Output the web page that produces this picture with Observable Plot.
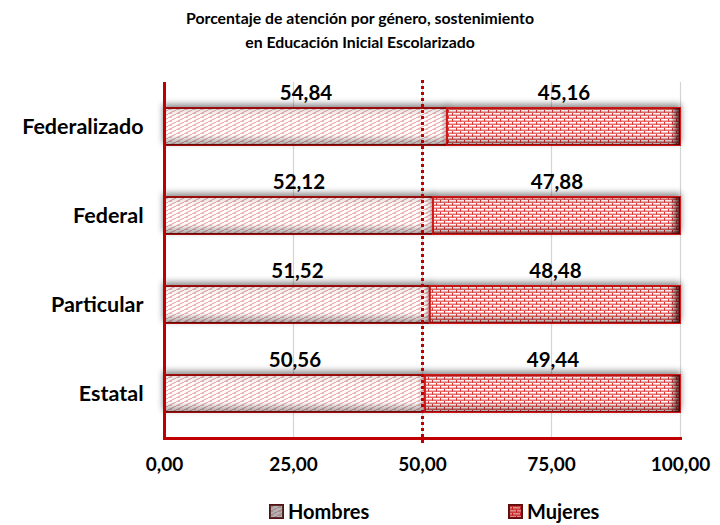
<!DOCTYPE html>
<html><head><meta charset="utf-8">
<script src="https://cdn.jsdelivr.net/npm/d3@7"></script>
<script src="https://cdn.jsdelivr.net/npm/@observablehq/plot@0.6"></script>
<style>
body{margin:0;background:#fff;font-family:Lato,"Open Sans",sans-serif;}
#wrap{position:relative;width:720px;height:525px;overflow:hidden;}
#title{position:absolute;top:6px;left:0;width:720px;text-align:center;font-weight:700;font-size:15.8px;line-height:24px;color:#000;}
#chart{position:absolute;top:62px;left:0;}
.leg{position:absolute;top:499px;font-weight:700;font-size:20px;display:flex;align-items:center;color:#000;}
.leg svg{margin-right:4px;}
</style></head><body>
<div id="wrap">
  <div id="title">Porcentaje de atención por género, sostenimiento<br>en Educación Inicial Escolarizado</div>
  <div id="chart"></div>
  <div class="leg" style="left:269px"><svg width="15" height="15"><rect x="1" y="1" width="13" height="13" fill="url(#patH)" stroke="#5a1010" stroke-width="2"/><rect x="1" y="1" width="13" height="13" fill="#555" opacity="0.45"/></svg>Hombres</div>
  <div class="leg" style="left:508px"><svg width="15" height="15"><rect x="1" y="1" width="13" height="13" fill="url(#patM)" stroke="#5a1010" stroke-width="2"/><rect x="1" y="1" width="13" height="13" fill="#a00" opacity="0.45"/></svg>Mujeres</div>
</div>
<script>
const categories = ["Federalizado", "Federal", "Particular", "Estatal"];
const hombres = [54.84, 52.12, 51.52, 50.56];
const mujeres = [45.16, 47.88, 48.48, 49.44];
const xTicks = [0, 25, 50, 75, 100];
const referencia = [50];

const fmt = v => d3.format(".2f")(v).replace(".", ",");

const rowsH = categories.map((c, i) => ({cat: c, serie: "Hombres", value: hombres[i], x1: 0, x2: hombres[i]}));
const rowsM = categories.map((c, i) => ({cat: c, serie: "Mujeres", value: mujeres[i], x1: hombres[i], x2: hombres[i] + mujeres[i]}));
const rows = rowsH.concat(rowsM);

const chart = Plot.plot({
  width: 720,
  height: 430,
  marginTop: 20,
  marginBottom: 54,
  marginLeft: 164,
  marginRight: 40,
  style: {fontFamily: "Lato, 'Open Sans', sans-serif", color: "#000", background: "#fff"},
  x: {domain: [0, 100]},
  y: {domain: categories, paddingInner: 0.58, paddingOuter: 0.29},
  marks: [
    Plot.gridX(xTicks.filter(t => t > 0), {stroke: "#d4d4d4", strokeOpacity: 1, strokeWidth: 1.2}),
    Plot.barX(rowsH, {x1: "x1", x2: "x2", y: "cat", fill: "url(#patH)", stroke: "#a01010", strokeWidth: 2, className: "barH"}),
    Plot.barX(rowsH, {x1: "x1", x2: "x2", y: "cat", fill: "url(#shadeV)"}),
    Plot.barX(rowsM, {x1: "x1", x2: "x2", y: "cat", fill: "url(#patM)", stroke: "#d01818", strokeWidth: 2, className: "barM"}),
    Plot.barX(rowsM, {x1: "x1", x2: "x2", y: "cat", fill: "url(#shadeV)"}),
    Plot.barX(rowsM, {x1: "x1", x2: "x2", y: "cat", fill: "url(#shadeR)"}),
    Plot.ruleX([0], {stroke: "#C00000", strokeWidth: 3, insetTop: 0}),
    Plot.frame({anchor: "bottom", stroke: "#C00000", strokeWidth: 3}),
    Plot.ruleX(referencia, {stroke: "#C00000", strokeWidth: 3, strokeDasharray: "3,3", insetTop: -2, insetBottom: -6}),
    Plot.text(rows, {x: d => (d.x1 + d.x2) / 2, y: "cat", text: d => fmt(d.value), dy: -34, fontSize: 20.5, fontWeight: 700, fill: "#000"}),
    Plot.axisY({tickSize: 0, tickPadding: 21, fontSize: 21.5, fontWeight: 700, label: null}),
    Plot.axisX({ticks: xTicks, tickSize: 0, tickPadding: 19, tickFormat: fmt, fontSize: 19, fontWeight: 700, label: null})
  ]
});

const defs = `
<defs>
  <pattern id="patH" width="8" height="4" patternUnits="userSpaceOnUse">
    <rect width="8" height="4" fill="#fff"/>
    <path d="M0,4 L8,0" stroke="#e48a8a" stroke-width="0.9" fill="none"/>
    <path d="M2,3.5 L4,3.5" stroke="#f0b0b0" stroke-width="0.8"/>
  </pattern>
  <pattern id="patM" width="8" height="6" patternUnits="userSpaceOnUse">
    <rect width="8" height="6" fill="#f4b4b4"/>
    <path d="M0,0.5 H8 M0,3.5 H8" stroke="#fff" stroke-width="1"/>
    <path d="M0.5,0 V3 M4.5,3 V6" stroke="#d33" stroke-width="1"/>
    <path d="M0,2.5 H8 M0,5.5 H8" stroke="#e05050" stroke-width="0.7"/>
  </pattern>
  <linearGradient id="shadeV" x1="0" y1="0" x2="0" y2="1">
    <stop offset="0" stop-color="#000" stop-opacity="0.12"/>
    <stop offset="0.25" stop-color="#000" stop-opacity="0"/>
    <stop offset="0.72" stop-color="#000" stop-opacity="0"/>
    <stop offset="1" stop-color="#000" stop-opacity="0.35"/>
  </linearGradient>
  <linearGradient id="shadeR" x1="0" y1="0" x2="1" y2="0">
    <stop offset="0.96" stop-color="#300" stop-opacity="0"/>
    <stop offset="1" stop-color="#300" stop-opacity="0.85"/>
  </linearGradient>
  <filter id="shadow" x="-5%" y="-60%" width="110%" height="220%">
    <feDropShadow dx="0" dy="-3" stdDeviation="3" flood-color="#000" flood-opacity="0.45"/>
  </filter>
</defs>`;
chart.insertAdjacentHTML("afterbegin", defs);
chart.querySelectorAll(".barH, .barM").forEach(g => g.setAttribute("filter", "url(#shadow)"));
document.getElementById("chart").appendChild(chart);
</script>
</body></html>
